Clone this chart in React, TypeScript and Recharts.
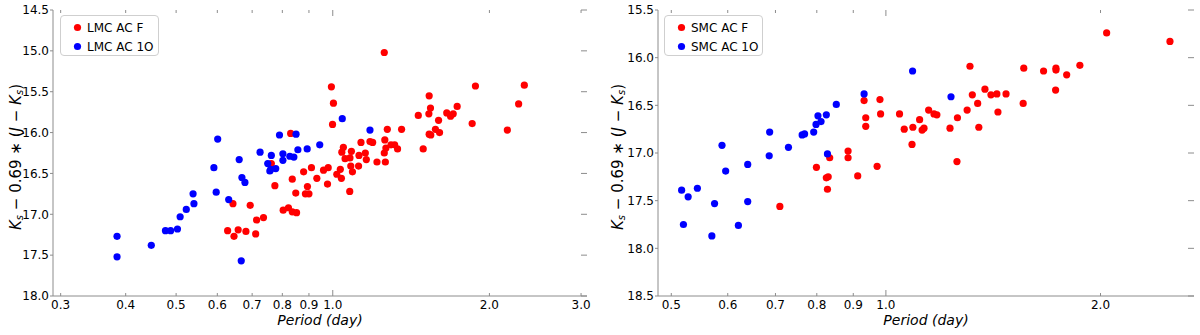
import React from 'react';
import { ScatterChart, Scatter, XAxis, YAxis, Legend } from 'recharts';

const FONT = '"DejaVu Sans", sans-serif';
const SPINE = '#8c8c8c';
const RED = '#ff0000';
const BLUE = '#0000ff';

// ---------------- LMC data ----------------
const lmcFPeriod = [
  0.830, 0.762, 0.836, 0.774, 0.849, 0.643, 0.694, 0.714, 0.736, 0.803, 0.822, 0.836, 0.852,
  0.628, 0.646, 0.658, 0.681, 0.711, 1.256, 0.994, 1.003, 0.999, 0.879, 0.910, 0.894, 0.886,
  0.900, 0.932, 0.960, 0.980, 0.977, 1.018, 1.034, 1.039, 1.078, 1.048, 1.041, 1.056, 1.079,
  1.086, 1.083, 1.091, 1.121, 1.123, 1.133, 1.155, 1.160, 1.179, 1.193, 1.216, 1.259, 1.265,
  1.256, 1.262, 1.273, 1.294, 1.315, 1.332, 1.356, 1.460, 1.492, 1.532, 1.541, 1.530, 1.532,
  1.543, 1.597, 1.575, 1.604, 1.656, 1.684, 1.704, 1.734, 1.880, 1.853, 2.165, 2.276, 2.334,
];
const lmcFMag = [
  16.01, 16.38, 16.57, 16.65, 16.74, 16.87, 16.89, 17.07, 17.04, 16.95, 16.92, 16.97, 16.98,
  17.20, 17.27, 17.19, 17.21, 17.24, 15.02, 15.44, 15.64, 15.90, 16.48, 16.43, 16.66, 16.75,
  16.75, 16.56, 16.46, 16.43, 16.63, 16.51, 16.45, 16.56, 16.72, 16.18, 16.24, 16.32, 16.31,
  16.23, 16.41, 16.48, 16.41, 16.28, 16.12, 16.25, 16.33, 16.11, 16.12, 16.36, 16.09, 16.19,
  16.25, 16.36, 15.96, 16.15, 16.15, 16.20, 15.96, 15.79, 16.20, 15.55, 15.70, 15.77, 16.02,
  16.03, 15.85, 15.96, 16.00, 15.76, 15.80, 15.77, 15.68, 15.43, 15.89, 15.97, 15.65, 15.42,
];
const lmc1OPeriod = [
  0.385, 0.385, 0.448, 0.477, 0.488, 0.503, 0.509, 0.523, 0.539, 0.541, 0.591, 0.601, 0.597,
  0.631, 0.661, 0.669, 0.678, 0.667, 0.725, 0.750, 0.757, 0.760, 0.762, 0.777, 0.790, 0.802,
  0.802, 0.827, 0.842, 0.850, 0.857, 0.893, 0.944, 1.043, 1.179,
];
const lmc1OMag = [
  17.27, 17.52, 17.38, 17.20, 17.20, 17.18, 17.03, 16.94, 16.75, 16.87, 16.43, 16.08, 16.73,
  16.82, 16.33, 16.55, 16.61, 17.57, 16.24, 16.38, 16.47, 16.45, 16.28, 16.44, 16.03, 16.26,
  16.34, 16.29, 16.30, 16.02, 16.21, 16.20, 16.15, 15.83, 15.97,
];

// ---------------- SMC data ----------------
const smcFPeriod = [
  0.710, 0.799, 0.825, 0.830, 0.828, 0.834, 0.885, 0.885, 0.913, 0.932, 0.937, 0.937, 0.972,
  0.981, 0.983, 1.045, 1.061, 1.091, 1.088, 1.115, 1.124, 1.131, 1.148, 1.168, 1.179, 1.230,
  1.260, 1.258, 1.300, 1.312, 1.322, 1.345, 1.350, 1.377, 1.404, 1.431, 1.436, 1.474, 1.561,
  1.558, 1.664, 1.732, 1.732, 1.730, 1.793, 1.871, 2.040, 2.503,
];
const smcFMag = [
  17.56, 17.15, 17.26, 17.25, 17.38, 17.05, 16.98, 17.05, 17.24, 16.45, 16.63, 16.72, 17.14,
  16.44, 16.59, 16.59, 16.75, 16.73, 16.91, 16.65, 16.76, 16.74, 16.55, 16.59, 16.60, 16.74,
  16.63, 17.09, 16.55, 16.09, 16.39, 16.48, 16.73, 16.33, 16.39, 16.38, 16.57, 16.38, 16.11,
  16.48, 16.14, 16.11, 16.13, 16.34, 16.18, 16.08, 15.74, 15.83,
];
const smc1OPeriod = [
  0.517, 0.520, 0.528, 0.544, 0.570, 0.575, 0.589, 0.596, 0.621, 0.640, 0.640, 0.687, 0.686,
  0.730, 0.763, 0.769, 0.792, 0.798, 0.803, 0.811, 0.825, 0.852, 0.828, 0.932, 1.090, 1.234,
];
const smc1OMag = [
  17.39, 17.75, 17.46, 17.37, 17.87, 17.53, 16.92, 17.19, 17.76, 17.12, 17.51, 16.78, 17.03,
  16.94, 16.81, 16.80, 16.78, 16.70, 16.61, 16.67, 16.60, 16.49, 17.01, 16.38, 16.14, 16.41,
];

// ---------------- axes ----------------
const lmcXTicks = [0.3, 0.4, 0.5, 0.6, 0.7, 0.8, 0.9, 1.0, 2.0, 3.0];
const lmcYTicks = [14.5, 15.0, 15.5, 16.0, 16.5, 17.0, 17.5, 18.0];
const smcXTicks = [0.5, 0.6, 0.7, 0.8, 0.9, 1.0, 2.0];
const smcYTicks = [15.5, 16.0, 16.5, 17.0, 17.5, 18.0, 18.5];
const lmcXDomain = [0.29, 3.08];
const lmcYDomain = [14.5, 18.0];
const smcXDomain = [0.479, 2.705];
const smcYDomain = [15.5, 18.5];

const lmcLabels = ['LMC AC F', 'LMC AC 1O'];
const smcLabels = ['SMC AC F', 'SMC AC 1O'];

const toPoints = (p: number[], m: number[]) => p.map((x, i) => ({ period: x, mag: m[i] }));

const W = 600;
const H = 335;
const TOP = 10;
const XH = 39;

const Dot = (props: any) => (
  <circle cx={props.cx} cy={props.cy} r={3.6} fill={props.fill} stroke="none" />
);

const LegendBox = (props: any) => {
  const order: string[] = props.order || [];
  const payload = [...(props.payload || [])].sort(
    (a: any, b: any) => order.indexOf(a.value) - order.indexOf(b.value)
  );
  return (
    <div
      style={{
        width: 99,
        height: 41,
        border: '1px solid #cfcfcf',
        borderRadius: 4,
        background: '#ffffff',
        boxSizing: 'border-box',
        paddingTop: 2,
        fontFamily: FONT,
        fontSize: 12,
        color: '#000',
      }}
    >
      {payload.map((e: any) => (
        <div key={e.value} style={{ display: 'flex', alignItems: 'center', height: 19 }}>
          <svg width={26} height={19} style={{ display: 'block' }}>
            <circle cx={16.5} cy={9.5} r={3.6} fill={e.color} />
          </svg>
          <span style={{ whiteSpace: 'nowrap' }}>{e.value}</span>
        </div>
      ))}
    </div>
  );
};

type PanelProps = {
  left: number;
  yAxisWidth: number;
  marginRight: number;
  legendLeft: number;
  yLabelX: number;
  xTicks: number[];
  yTicks: number[];
  xDomain: number[];
  yDomain: number[];
  fData: { period: number; mag: number }[];
  oData: { period: number; mag: number }[];
  labels: string[];
};

function Panel(p: PanelProps) {
  const plotLeft = p.yAxisWidth;
  const plotRight = W - p.marginRight;
  const plotTop = TOP;
  const plotBottom = H - XH;

  const XTick = (props: any) => {
    const { x, y, payload } = props;
    const major = Math.abs(payload.value - 1) < 1e-9;
    const len = major ? 6 : 3;
    return (
      <g>
        <line x1={x} x2={x} y1={plotBottom} y2={plotBottom - len} stroke={SPINE} strokeWidth={1} />
        <line x1={x} x2={x} y1={plotTop} y2={plotTop + len} stroke={SPINE} strokeWidth={1} />
        <text x={x} y={y} dy="0.71em" textAnchor="middle" fontFamily={FONT} fontSize={12} fill="#000">
          {Number(payload.value).toFixed(1)}
        </text>
      </g>
    );
  };

  const YTick = (props: any) => {
    const { x, y, payload } = props;
    return (
      <g>
        <line x1={plotLeft} x2={plotLeft - 3} y1={y} y2={y} stroke={SPINE} strokeWidth={1} />
        <line x1={plotRight} x2={plotRight - 6} y1={y} y2={y} stroke={SPINE} strokeWidth={1} />
        <text x={x} y={y} dy="0.355em" textAnchor="end" fontFamily={FONT} fontSize={12} fill="#000">
          {Number(payload.value).toFixed(1)}
        </text>
      </g>
    );
  };

  const XLabel = (props: any) => {
    const vb = props.viewBox || {};
    return (
      <text
        x={vb.x + vb.width / 2}
        y={vb.y + 29}
        textAnchor="middle"
        fontFamily={FONT}
        fontSize={14}
        fontStyle="italic"
        fill="#000"
      >
        Period (day)
      </text>
    );
  };

  const YLabel = () => {
    const cx = p.yLabelX;
    const cy = 157;
    const sub = 10;
    return (
      <text
        x={cx}
        y={cy}
        transform={`rotate(-90, ${cx}, ${cy})`}
        textAnchor="middle"
        dominantBaseline="central"
        fontFamily={FONT}
        fontSize={15}
        fill="#000"
        xmlSpace="preserve"
        style={{ whiteSpace: 'pre' }}
      >
        <tspan fontStyle="italic">K</tspan>
        <tspan fontStyle="italic" fontSize={sub} dy={3}>s</tspan>
        <tspan dy={-3}>{' \u2212 0.69 \u2217 ('}</tspan>
        <tspan fontStyle="italic">J</tspan>
        <tspan>{' \u2212 '}</tspan>
        <tspan fontStyle="italic">K</tspan>
        <tspan fontStyle="italic" fontSize={sub} dy={3}>s</tspan>
        <tspan dy={-3}>)</tspan>
      </text>
    );
  };

  return (
    <div style={{ position: 'absolute', left: p.left, top: 0, width: W, height: H }}>
      <ScatterChart width={W} height={H} margin={{ top: TOP, right: p.marginRight, bottom: 0, left: 0 }}>
        <XAxis
          xAxisId="b"
          dataKey="period"
          type="number"
          scale="log"
          domain={p.xDomain}
          ticks={p.xTicks}
          interval={0}
          allowDataOverflow
          height={XH}
          tickSize={0}
          tickMargin={4.5}
          tickLine={false}
          axisLine={{ stroke: SPINE, strokeWidth: 1 }}
          tick={(t: any) => <XTick {...t} />}
          label={(l: any) => <XLabel {...l} />}
        />
        <XAxis
          xAxisId="t"
          orientation="top"
          type="number"
          domain={[0, 1]}
          height={0}
          tick={false}
          tickLine={false}
          axisLine={{ stroke: SPINE, strokeWidth: 1 }}
        />
        <YAxis
          yAxisId="l"
          dataKey="mag"
          type="number"
          reversed
          domain={p.yDomain}
          ticks={p.yTicks}
          interval={0}
          allowDataOverflow
          width={p.yAxisWidth}
          tickSize={0}
          tickMargin={4}
          tickLine={false}
          axisLine={{ stroke: SPINE, strokeWidth: 1 }}
          tick={(t: any) => <YTick {...t} />}
          label={() => <YLabel />}
        />
        <YAxis
          yAxisId="r"
          orientation="right"
          type="number"
          domain={[0, 1]}
          width={0}
          tick={false}
          tickLine={false}
          axisLine={{ stroke: SPINE, strokeWidth: 1 }}
        />
        <Legend
          layout="horizontal"
          verticalAlign="middle"
          align="center"
          wrapperStyle={{ left: p.legendLeft, top: 15, width: 'auto', height: 'auto' }}
          content={(lp: any) => <LegendBox {...lp} order={p.labels} />}
        />
        <Scatter
          name={p.labels[0]}
          data={p.fData}
          fill={RED}
          xAxisId="b"
          yAxisId="l"
          isAnimationActive={false}
          shape={(s: any) => <Dot {...s} fill={RED} />}
        />
        <Scatter
          name={p.labels[1]}
          data={p.oData}
          fill={BLUE}
          xAxisId="b"
          yAxisId="l"
          isAnimationActive={false}
          shape={(s: any) => <Dot {...s} fill={BLUE} />}
        />
      </ScatterChart>
    </div>
  );
}

export default function App() {
  return (
    <div style={{ position: 'absolute', left: 0, top: 0, width: 1200, height: 335, background: '#fff' }}>
      <Panel
        left={0}
        yAxisWidth={53}
        marginRight={13}
        legendLeft={60}
        yLabelX={16}
        xTicks={lmcXTicks}
        yTicks={lmcYTicks}
        xDomain={lmcXDomain}
        yDomain={lmcYDomain}
        fData={toPoints(lmcFPeriod, lmcFMag)}
        oData={toPoints(lmc1OPeriod, lmc1OMag)}
        labels={lmcLabels}
      />
      <Panel
        left={600}
        yAxisWidth={58}
        marginRight={6}
        legendLeft={64}
        yLabelX={18}
        xTicks={smcXTicks}
        yTicks={smcYTicks}
        xDomain={smcXDomain}
        yDomain={smcYDomain}
        fData={toPoints(smcFPeriod, smcFMag)}
        oData={toPoints(smc1OPeriod, smc1OMag)}
        labels={smcLabels}
      />
    </div>
  );
}
